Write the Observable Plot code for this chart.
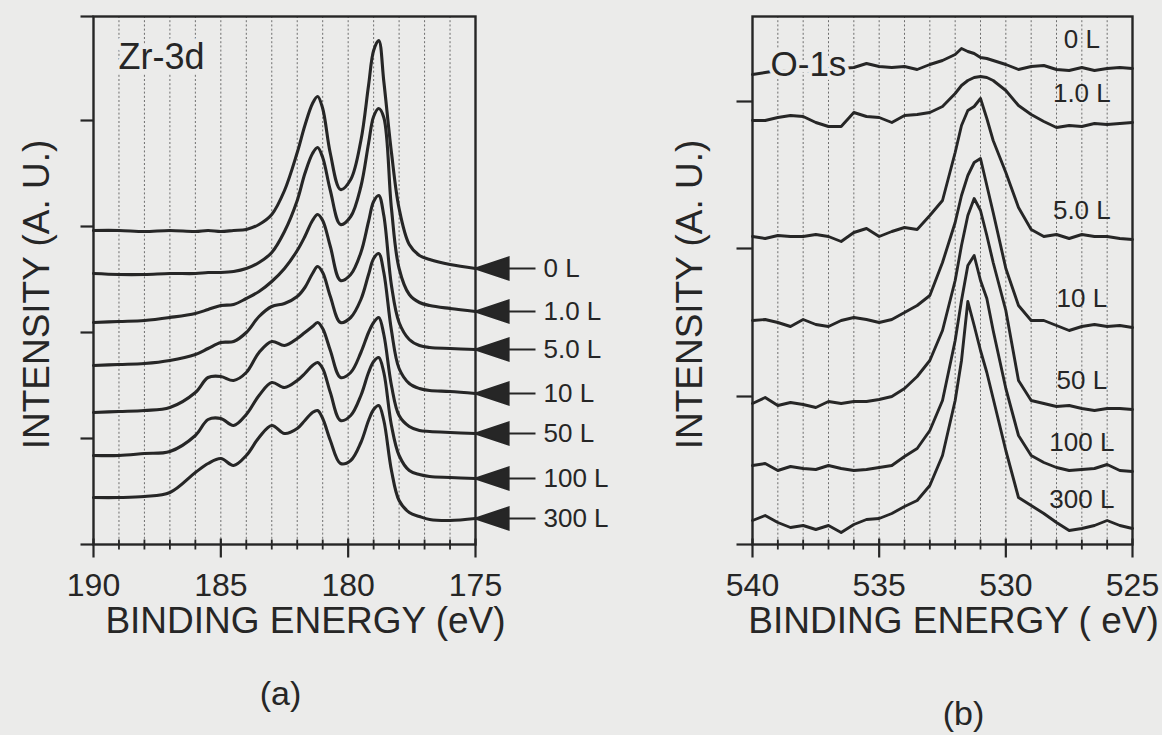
<!DOCTYPE html>
<html><head><meta charset="utf-8">
<script src="https://cdn.jsdelivr.net/npm/d3@7"></script>
<script src="https://cdn.jsdelivr.net/npm/@observablehq/plot@0.6"></script>
<style>
html,body{margin:0;padding:0;background:#ebebea;}
#wrap{position:relative;width:1162px;height:735px;overflow:hidden;background:#ebebea;}
#pa,#pb{position:absolute;top:0;}
#pa{left:0;} #pb{left:640px;}
svg{overflow:visible;}
</style></head>
<body><div id="wrap"><div id="pa"></div><div id="pb"></div></div>
<script>
// ---------- data ----------
const exposures = ["0 L", "1.0 L", "5.0 L", "10 L", "50 L", "100 L", "300 L"];

// (a) Zr-3d, binding energy (eV) and intensity (A.U.)
const zrEnergy = [190,189,188,187,186,185.5,185,184.5,184,183.5,183,182.5,182,181.7,181.4,181.2,181,180.7,180.3,179.9,179.5,179.2,179,178.8,178.6,178.3,178,177.6,177.2,176.8,176,175];
const zr0   = [314,314,313,314,313,314,313,314,315,320,330,354,392,419,441,448,436,391,355,365,404,459,494,504,463,392,336,300,289,285,280,276];
const zr1   = [271,270,270,271,271,272,272,273,276,282,292,313,344,371,391,397,387,354,320,328,358,401,428,436,427,336,276,250,242,239,236,233];
const zr5   = [222,223,224,227,231,235,239,240,246,253,263,276,294,308,324,330,324,298,264,270,292,323,343,349,329,259,222,205,199,197,196,195];
const zr10  = [179,180,181,184,190,196,202,203,212,228,238,241,248,257,271,278,272,248,222,227,245,270,286,291,272,214,176,161,156,154,153,151];
const zr50  = [132,133,134,137,152,167,168,164,172,192,203,199,206,212,218,222,216,194,167,172,192,212,222,227,210,159,129,118,114,113,112,111];
const zr100 = [89,89,91,93,109,125,126,119,130,149,162,157,164,171,179,182,176,152,124,129,149,172,183,187,172,119,89,74,70,68,67,66];
const zr300 = [47,47,48,52,72,81,86,79,89,107,119,111,116,124,132,134,126,104,81,84,102,124,135,139,124,74,44,32,28,25,24,26];

// (b) O-1s
const oEnergy = [540,539.5,539,538.5,538,537.5,537,536.5,536,535.5,535,534.5,534,533.5,533,532.5,532,531.75,531.5,531.25,531,530.75,530.5,530,529.5,529,528.5,528,527.5,527,526.5,526,525.5,525];
const o0   = [470,472,474,473,475,472,474,476,477,481,478,477,478,475,480,484,490,496,493,491,487,486,484,480,475,478,479,475,474,477,474,476,477,476];
const o1   = [424,424,427,429,428,422,418,418,432,428,427,422,429,430,432,438,451,459,464,467,468,467,464,454,439,430,423,417,419,418,421,420,421,422];
const o5   = [308,306,309,308,308,310,308,303,312,316,308,313,317,315,329,344,392,419,434,438,446,426,404,372,337,315,308,310,306,310,308,308,306,305];
const o10  = [224,225,222,218,225,220,218,224,227,225,222,225,232,239,249,282,322,349,369,382,386,359,332,276,239,224,224,219,214,218,220,218,219,217];
const o50  = [141,147,139,142,140,137,143,141,143,143,145,148,156,168,184,214,264,299,329,346,334,309,282,234,164,144,141,138,139,136,134,136,136,135];
const o100 = [79,81,74,78,76,75,79,76,74,75,77,79,88,96,114,144,204,244,279,289,264,246,214,156,109,89,82,77,74,75,76,80,74,73];
const o300 = [24,29,22,17,19,15,19,12,20,25,26,31,38,44,59,89,144,184,243,219,194,172,146,94,47,39,31,22,14,16,19,24,19,16];

// axes
const xDomainA = [190, 175];
const xDomainB = [540, 525];
const yDomain = [0, 528];
const xMajorA = [190, 185, 180, 175];
const xMajorB = [540, 535, 530, 525];
const yTicksA = [0, 106, 212, 318, 424, 528];
const yTicksB = [0, 148, 296, 443];

// ---------- helpers ----------
const bg = "#ebebea", ink = "#262626", grid = "#6e6e6e";
const font = "'Liberation Sans', Arial, Helvetica, sans-serif";
function tidy(energy, series) {
  return series.flatMap((vals, i) => vals.map((v, j) => ({exposure: exposures[i], energy: energy[j], intensity: v})));
}
function ends(series) {
  return series.map((vals, i) => ({exposure: exposures[i], intensity: vals[vals.length - 1]}));
}
const vTick = (a, b) => ({draw(ctx) { ctx.moveTo(0, a); ctx.lineTo(0, b); }});
const hTick = (len) => ({draw(ctx) { ctx.moveTo(-len, 0); ctx.lineTo(0, 0); }});
const arrowSym = {draw(ctx) {
  ctx.moveTo(0, 0); ctx.lineTo(33, -11); ctx.lineTo(33, 11); ctx.closePath();
  ctx.moveTo(33, 0); ctx.lineTo(60, 0);
}};

const zrSeries = [zr0, zr1, zr5, zr10, zr50, zr100, zr300];
const oSeries = [o0, o1, o5, o10, o50, o100, o300];
const zrData = tidy(zrEnergy, zrSeries);
const oData = tidy(oEnergy, oSeries);

function minorTicks(dom) {
  const lo = Math.min(...dom), hi = Math.max(...dom);
  return d3.range(lo, hi + 1).filter(v => v % 5 !== 0);
}

function axisMarks(xDom, majors, yTicks, yTickLen) {
  return [
    Plot.frame({stroke: ink, strokeWidth: 2.4}),
    Plot.dot(minorTicks(xDom), {x: d => d, y: yDomain[0], symbol: vTick(-5, 5), fill: "none", stroke: ink, strokeWidth: 1.8}),
    Plot.dot(majors, {x: d => d, y: yDomain[0], symbol: vTick(-6, 13), fill: "none", stroke: ink, strokeWidth: 2.2}),
    Plot.dot(yTicks, {x: xDom[0], y: d => d, symbol: hTick(yTickLen), fill: "none", stroke: ink, strokeWidth: 2.2}),
    Plot.text(majors, {x: d => d, y: yDomain[0], dy: 41, text: d => String(d), fontSize: 32, fill: ink})
  ];
}

// ---------- panel (a) ----------
const pa = Plot.plot({
  width: 640, height: 735,
  marginLeft: 93, marginRight: 165, marginTop: 16, marginBottom: 191,
  style: {background: "transparent", fontFamily: font, overflow: "visible"},
  x: {domain: xDomainA, axis: null},
  y: {domain: yDomain, axis: null},
  marks: [
    Plot.ruleX(d3.range(176, 190), {stroke: grid, strokeWidth: 1, strokeDasharray: "2,2.2"}),
    Plot.line(zrData, {x: "energy", y: "intensity", z: "exposure", stroke: ink, strokeWidth: 3.1, curve: "catmull-rom", strokeLinejoin: "round"}),
    Plot.text(["Zr-3d"], {frameAnchor: "top-left", dx: 25, dy: 52, lineAnchor: "bottom", textAnchor: "start", fontSize: 36, fill: ink, stroke: bg, strokeWidth: 10}),
    ...axisMarks(xDomainA, xMajorA, yTicksA, 13),
    Plot.dot(ends(zrSeries), {x: xDomainA[1], y: "intensity", symbol: arrowSym, fill: ink, stroke: ink, strokeWidth: 2.2}),
    Plot.text(ends(zrSeries), {x: xDomainA[1], y: "intensity", text: "exposure", dx: 68, textAnchor: "start", fontSize: 26, fill: ink}),
    Plot.text(["INTENSITY (A. U.)"], {frameAnchor: "left", textAnchor: "middle", lineAnchor: "middle", rotate: -90, dx: -56, dy: 14, fontSize: 37, fill: ink}),
    Plot.text(["BINDING ENERGY (eV)"], {frameAnchor: "bottom", textAnchor: "middle", dx: 21, dy: 88, fontSize: 37, fill: ink}),
    Plot.text(["(a)"], {frameAnchor: "bottom", textAnchor: "middle", dx: -4, dy: 160, fontSize: 34, fill: ink})
  ]
});
document.getElementById("pa").append(pa);

// ---------- panel (b) ----------
const labelEnergyB = 527.0;
const pb = Plot.plot({
  width: 522, height: 735,
  marginLeft: 112, marginRight: 30, marginTop: 16, marginBottom: 191,
  style: {background: "transparent", fontFamily: font, overflow: "visible"},
  x: {domain: xDomainB, axis: null},
  y: {domain: yDomain, axis: null},
  marks: [
    Plot.ruleX(d3.range(526, 540), {stroke: grid, strokeWidth: 1, strokeDasharray: "2,2.2"}),
    Plot.line(oData, {x: "energy", y: "intensity", z: "exposure", stroke: ink, strokeWidth: 2.9, strokeLinejoin: "round"}),
    Plot.text(["O-1s"], {frameAnchor: "top-left", dx: 18, dy: 59, lineAnchor: "bottom", textAnchor: "start", fontSize: 35, fill: ink, stroke: bg, strokeWidth: 8}),
    ...axisMarks(xDomainB, xMajorB, yTicksB, 16),
    Plot.text(ends(oSeries), {x: labelEnergyB, y: "intensity", text: "exposure", dy: -29, fontSize: 26, fill: ink}),
    Plot.text(["INTENSITY (A. U.)"], {frameAnchor: "left", textAnchor: "middle", lineAnchor: "middle", rotate: -90, dx: -62, dy: 14, fontSize: 37, fill: ink}),
    Plot.text(["BINDING ENERGY ( eV)"], {frameAnchor: "bottom", textAnchor: "middle", dx: 11, dy: 88, fontSize: 37, fill: ink}),
    Plot.text(["(b)"], {frameAnchor: "bottom", textAnchor: "middle", dx: 21, dy: 180, fontSize: 34, fill: ink})
  ]
});
document.getElementById("pb").append(pb);
</script>
</body></html>
